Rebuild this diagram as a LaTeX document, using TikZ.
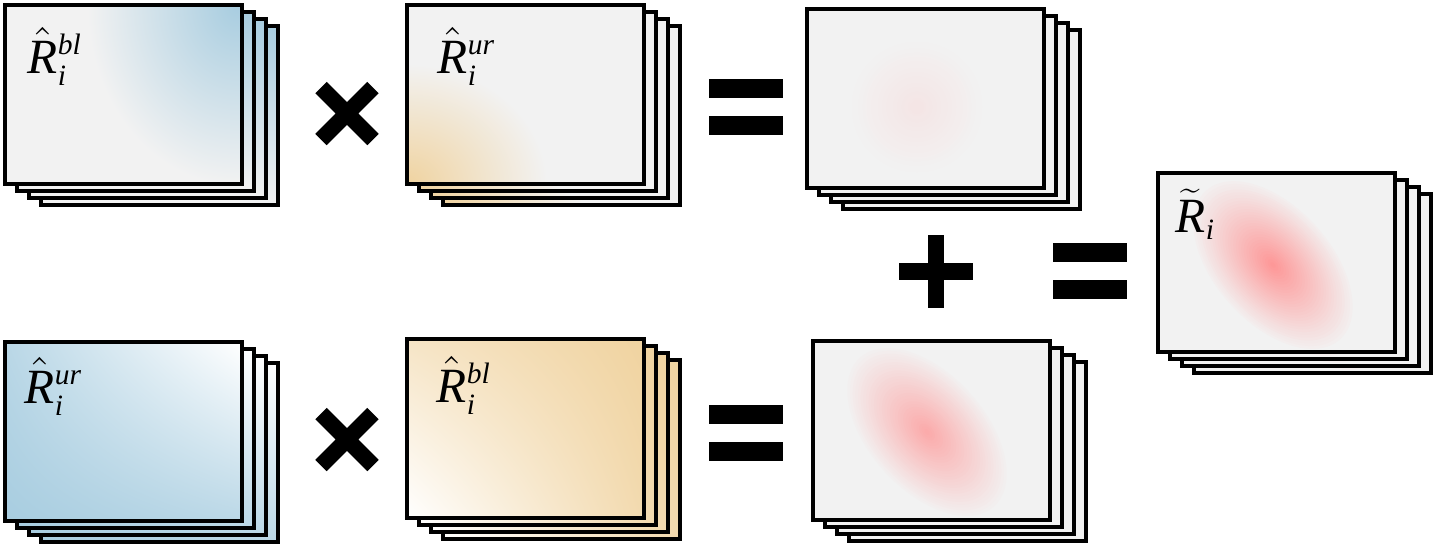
\documentclass[tikz,border=0pt]{standalone}
\usepackage{fontspec}
\setmainfont{Liberation Serif}
\usetikzlibrary{calc, positioning, shadings}

\DeclareMathSizes{14}{14}{8.4}{6.5}

\definecolor{bgfill}{HTML}{F2F2F2}
\definecolor{blueR}{HTML}{A8CDE0}
\definecolor{tanR}{HTML}{F0D3A0}
\definecolor{redR}{HTML}{FF8C8C}

% one stack of four sheets, front sheet at (#1,#2), #3 paints a sheet
\newcommand{\sheetstack}[3]{%
  \foreach \k in {3,2,1,0}{%
    \begin{scope}[shift={(#1+12*\k,#2+7*\k)}]
      \begin{scope}
        \clip (0,0) rectangle (237,179);
        \fill[bgfill] (0,0) rectangle (237,179);
        #3
      \end{scope}
      \draw[sheet] (0,0) rectangle (237,179);
    \end{scope}
  }%
}

% soft blob made of rings, #1 = strongest mix, #2 = path of one ring
\newcommand{\redblob}[2]{%
  \foreach \s in {30,29,...,1}{%
    \pgfmathsetmacro{\p}{#1*(1-0.96*(\s-1)/29)}
    \fill[redR!\p!bgfill] #2;
  }%
}

\begin{document}
\begin{tikzpicture}[x=0.01cm, y=-0.01cm]

    \tikzset
    {
        sheet/.style={line width=0.04cm, line join=miter},
        lbl/.style={anchor=base west, inner sep=0pt, font={\fontsize{14}{16}\selectfont}},
        pics/timessign/.style={code={\draw[line width=0.16cm] (-26,-26) -- (26,26) (-26,26) -- (26,-26);}},
        pics/eqsign/.style={code={\fill (-37,-28) rectangle (37,-9); \fill (-37,9) rectangle (37,28);}},
        pics/plussign/.style={code={\fill (-37,-8.5) rectangle (37,8.5); \fill (-8,-36.5) rectangle (8,36.5);}}
    }

    \useasboundingbox (0,0) rectangle (1437,547);

    % upper row
    \sheetstack{5}{5}{\shade[inner color=blueR, outer color=bgfill] (232,0) ellipse (150 and 180);}
    \sheetstack{407}{5}{\shade[inner color=tanR, outer color=bgfill] (0,179) ellipse (140 and 120);}
    \sheetstack{807}{9}{\redblob{13}{(110,98) circle ({65*\s/30})}}

    % lower row
    \sheetstack{5}{342}{\shade[upper left=blueR!80!white, upper right=white, lower left=blueR, lower right=blueR!78!white] (0,0) rectangle (237,179);}
    \sheetstack{407}{339}{\shade[upper left=tanR!60!white, upper right=tanR, lower left=white, lower right=tanR!85!white] (0,0) rectangle (237,179);}
    \sheetstack{813}{341}{\redblob{70}{[rotate around={-48:(114,91)}] (114,91) ellipse ({100*\s/30} and {58*\s/30})}}

    % result
    \sheetstack{1158}{173}{\redblob{88}{[rotate around={-48:(115,92)}] (115,92) ellipse ({100*\s/30} and {58*\s/30})}}

    % labels
    \node[lbl] (blTop) at (27,73) {$\hat{\mathit{R}}_{\mathit{i}}^{\mathit{bl}}$};
    \node[lbl] (urTop) at (437,73) {$\hat{\mathit{R}}_{\mathit{i}}^{\mathit{ur}}$};
    \node[lbl] (urBot) at (24,403) {$\hat{\mathit{R}}_{\mathit{i}}^{\mathit{ur}}$};
    \node[lbl] (blBot) at (436,402) {$\hat{\mathit{R}}_{\mathit{i}}^{\mathit{bl}}$};
    \node[lbl] (sumR) at (1175,232) {$\widetilde{\mathit{R}}_{\mathit{i}}$};

    % operators
    \coordinate (timesTop) at (347,113.5);
    \coordinate (timesBot) at (347,439.5);
    \coordinate (eqTop) at (745.5,107);
    \coordinate (eqBot) at (745.5,432.5);
    \coordinate (plusMid) at (936,271.5);
    \coordinate (eqMid) at (1090,271);

    \pic at (timesTop) {timessign};
    \pic at (timesBot) {timessign};
    \pic at (eqTop) {eqsign};
    \pic at (eqBot) {eqsign};
    \pic at (plusMid) {plussign};
    \pic at (eqMid) {eqsign};

\end{tikzpicture}
\end{document}
